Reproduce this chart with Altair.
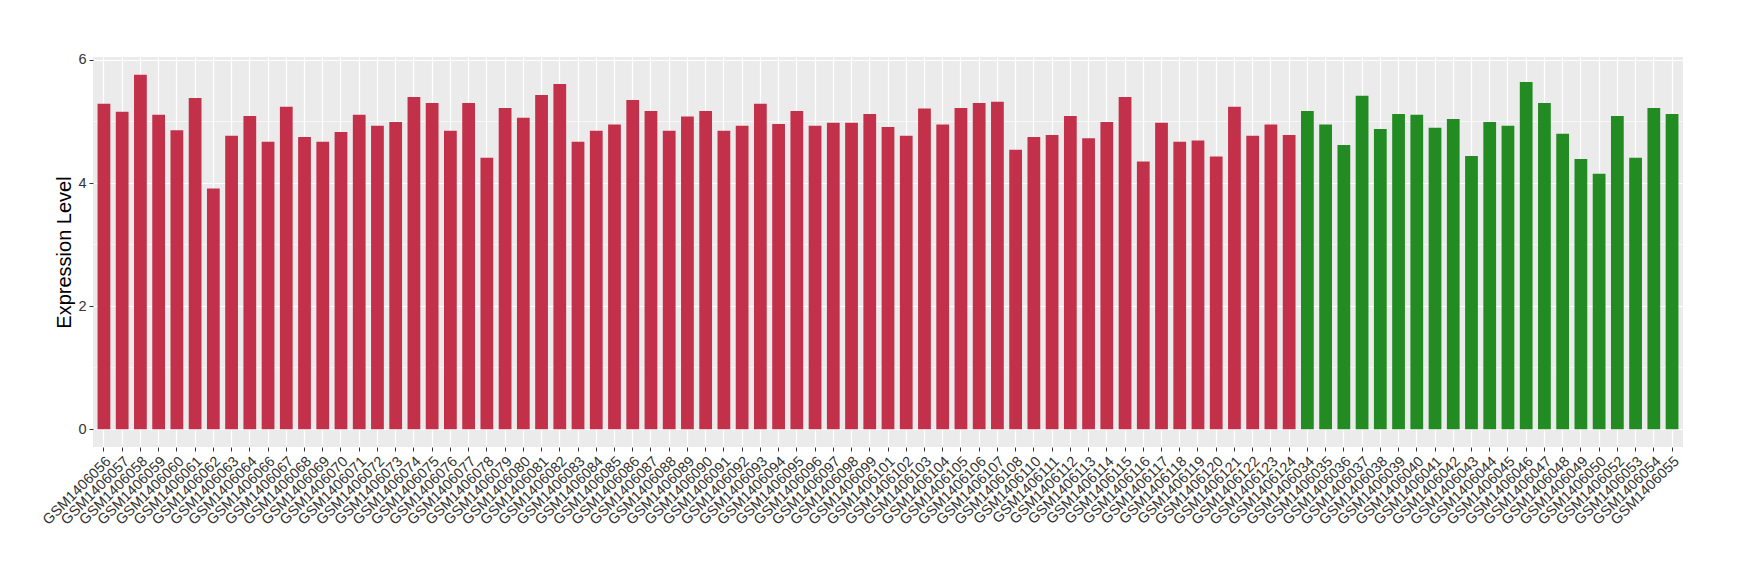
import altair as alt
import pandas as pd

red_ids = ["056", "057", "058", "059", "060", "061", "062", "063", "064",
           "066", "067", "068", "069", "070", "071", "072", "073", "074", "075",
           "076", "077", "078", "079", "080", "081", "082", "083", "084", "085",
           "086", "087", "088", "089", "090", "091", "092", "093", "094", "095",
           "096", "097", "098", "099", "101", "102", "103", "104", "105", "106",
           "107", "108", "110", "111", "112", "113", "114", "115", "116", "117",
           "118", "119", "120", "121", "122", "123", "124"]
red_values = [5.29, 5.16, 5.76, 5.11, 4.86, 5.38, 3.91, 4.77, 5.09,
              4.67, 5.24, 4.75, 4.67, 4.83, 5.11, 4.93, 4.99, 5.40, 5.30,
              4.85, 5.30, 4.41, 5.22, 5.06, 5.43, 5.61, 4.67, 4.85, 4.95,
              5.35, 5.17, 4.85, 5.08, 5.17, 4.85, 4.93, 5.29, 4.96, 5.17,
              4.93, 4.98, 4.98, 5.12, 4.91, 4.77, 5.21, 4.95, 5.22, 5.30,
              5.32, 4.54, 4.75, 4.78, 5.09, 4.73, 4.99, 5.40, 4.35, 4.98,
              4.67, 4.69, 4.43, 5.24, 4.77, 4.95, 4.78]
green_ids = ["034", "035", "036", "037", "038", "039", "040", "041", "042",
             "043", "044", "045", "046", "047", "048", "049", "050", "052",
             "053", "054", "055"]
green_values = [5.17, 4.95, 4.62, 5.42, 4.88, 5.12, 5.11, 4.90, 5.04,
                4.44, 4.99, 4.93, 5.64, 5.30, 4.80, 4.39, 4.15, 5.09,
                4.41, 5.22, 5.12]
minor_grid = [1, 3, 5]
major_ticks = [0, 2, 4, 6]

samples = ["GSM1406" + s for s in red_ids] + ["GSM1406" + s for s in green_ids]
values = red_values + green_values
groups = ["red"] * len(red_ids) + ["green"] * len(green_ids)
df = pd.DataFrame({"sample": samples, "value": values, "group": groups})

FONT = "Liberation Sans"
ymin = -0.05 * max(values)
ymax = max(values) * 1.05

yscale = alt.Scale(domain=[ymin, ymax], nice=False, zero=False)

minor = alt.Chart(pd.DataFrame({"v": minor_grid})).mark_rule(
    color="white", strokeWidth=0.6
).encode(y=alt.Y("v:Q", scale=yscale))

bars = alt.Chart(df).mark_bar().encode(
    x=alt.X("sample:N", sort=None,
            scale=alt.Scale(paddingInner=0.3, paddingOuter=0.25),
            axis=alt.Axis(title=None, labelAngle=-45, labelAlign="right",
                          labelBaseline="top", labelFontSize=14.5, labelFont=FONT,
                          labelColor="#333333", bandPosition=0.5, grid=True,
                          gridColor="white", gridWidth=1.2, tickColor="#333333",
                          tickSize=4, tickWidth=1, domain=False, labelPadding=3,
                          labelOverlap=False)),
    y=alt.Y("value:Q", scale=yscale,
            axis=alt.Axis(title="Expression Level", values=major_ticks, format="d",
                          labelFontSize=14.5, labelFont=FONT, labelColor="#333333",
                          grid=True, gridColor="white", gridWidth=1.2,
                          tickColor="#333333", tickSize=4, domain=False,
                          labelPadding=3, titleFont=FONT, titleFontSize=20,
                          titleFontWeight="normal", titleColor="black",
                          titleX=-29, titleY=195, titleAngle=-90,
                          titleBaseline="middle", titleAlign="center")),
    y2=alt.datum(0),
    color=alt.Color("group:N", scale=alt.Scale(domain=["red", "green"],
                                               range=["#C3304A", "#228B22"]),
                    legend=None),
)

chart = alt.layer(minor, bars).properties(
    width=1590, height=390,
    autosize=alt.AutoSizeParams(type="none"),
    padding={"left": 85, "top": 49, "right": 49, "bottom": 120},
).configure_view(fill="#EBEBEB", stroke=None)

chart.save("out.html", embed_options={"renderer": "svg", "actions": False})
